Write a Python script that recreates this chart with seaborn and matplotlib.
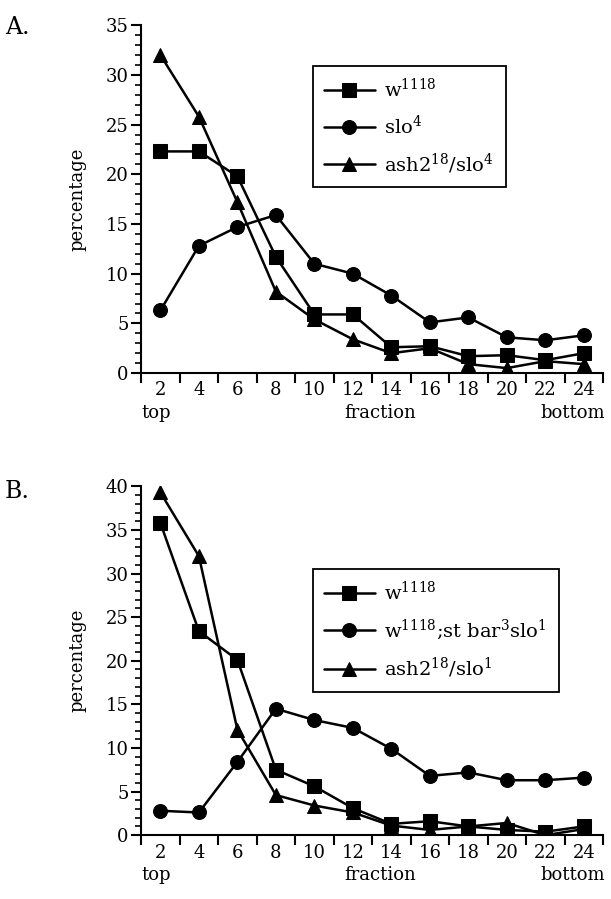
import numpy as np
import pandas as pd
import matplotlib
matplotlib.use("Agg")
import matplotlib.pyplot as plt
from matplotlib.ticker import MultipleLocator, FixedLocator, NullFormatter
import seaborn as sns

fractions = [2, 4, 6, 8, 10, 12, 14, 16, 18, 20, 22, 24]

# Panel A
a_w1118 = [22.3, 22.3, 19.8, 11.7, 5.9, 5.9, 2.6, 2.7, 1.7, 1.8, 1.3, 2.0]
a_slo4 = [6.3, 12.8, 14.7, 15.9, 11.0, 10.0, 7.8, 5.1, 5.6, 3.6, 3.3, 3.8]
a_ash2_slo4 = [32.0, 25.8, 17.2, 8.2, 5.4, 3.4, 2.0, 2.5, 0.9, 0.5, 1.2, 0.9]
a_labels = [r"w$^{\mathrm{1118}}$", r"slo$^{\mathrm{4}}$", r"ash2$^{\mathrm{18}}$/slo$^{\mathrm{4}}$"]

# Panel B
b_w1118 = [35.8, 23.4, 20.1, 7.5, 5.6, 3.1, 1.3, 1.6, 1.0, 0.6, 0.4, 1.0]
b_stbar_slo1 = [2.8, 2.6, 8.4, 14.5, 13.2, 12.3, 9.9, 6.8, 7.2, 6.3, 6.3, 6.6]
b_ash2_slo1 = [39.3, 32.0, 12.1, 4.6, 3.4, 2.6, 1.1, 0.6, 1.0, 1.4, 0.0, 0.7]
b_labels = [r"w$^{\mathrm{1118}}$", r"w$^{\mathrm{1118}}$;st bar$^{\mathrm{3}}$slo$^{\mathrm{1}}$",
            r"ash2$^{\mathrm{18}}$/slo$^{\mathrm{1}}$"]

sns.set_theme(style="ticks")
plt.rcParams["font.family"] = ["DejaVu Serif"]
plt.rcParams["mathtext.fontset"] = "dejavuserif"
plt.rcParams["text.color"] = "black"
plt.rcParams["axes.labelcolor"] = "black"
plt.rcParams["xtick.color"] = "black"
plt.rcParams["ytick.color"] = "black"
plt.rcParams["axes.edgecolor"] = "black"

FS = 13


def make_df(series, labels):
    rows = []
    for s, lab in zip(series, labels):
        for f, v in zip(fractions, s):
            rows.append({"fraction": f, "pct": v, "genotype": lab})
    return pd.DataFrame(rows)


def draw(ax, series, labels, ymax, legend_bbox):
    df = make_df(series, labels)
    markers = dict(zip(labels, ["s", "o", "^"]))
    sns.lineplot(data=df, x="fraction", y="pct", style="genotype", markers=markers,
                 dashes=False, color="black", linewidth=1.8, markersize=10,
                 markeredgecolor="black", ax=ax, legend="full")
    handles, labs = ax.get_legend_handles_labels()
    hmap = dict(zip(labs, handles))
    hs = [hmap[l] for l in labels]
    ax.legend(hs, labels, loc="upper left", bbox_to_anchor=legend_bbox, frameon=True,
              fancybox=False, edgecolor="black", framealpha=1,
              handlelength=2.6, borderpad=0.6, labelspacing=0.7, handletextpad=0.5,
              prop={"size": FS + 1})
    leg = ax.get_legend()
    leg.get_frame().set_linewidth(1.3)
    for lh in leg.legend_handles:
        lh.set_color("black")
        lh.set_markersize(10)
        lh.set_linewidth(1.8)
    ax.set_xlim(1, 25)
    ax.set_ylim(0, ymax)
    ax.xaxis.set_major_locator(FixedLocator(np.arange(1, 26, 2)))
    ax.xaxis.set_major_formatter(NullFormatter())
    ax.xaxis.set_minor_locator(FixedLocator(fractions))
    ax.set_xticklabels([str(f) for f in fractions], minor=True)
    ax.tick_params(axis="x", which="major", direction="out", length=7, width=1.5)
    ax.tick_params(axis="x", which="minor", length=0, pad=6, labelsize=FS)
    ax.yaxis.set_major_locator(MultipleLocator(5))
    ax.yaxis.set_minor_locator(MultipleLocator(1))
    ax.tick_params(axis="y", which="major", direction="out", length=7, width=1.5, labelsize=FS, pad=2)
    ax.tick_params(axis="y", which="minor", direction="out", length=4, width=1.2)
    for sp in ["top", "right"]:
        ax.spines[sp].set_visible(False)
    for sp in ["left", "bottom"]:
        ax.spines[sp].set_linewidth(1.5)
    ax.set_xlabel("")
    ax.set_ylabel("percentage", fontsize=FS, labelpad=14)
    ax.text(0.0, -0.088, "top", transform=ax.transAxes, ha="left", va="top", fontsize=FS)
    ax.text(0.44, -0.088, "fraction", transform=ax.transAxes, ha="left", va="top", fontsize=FS)
    ax.text(1.005, -0.088, "bottom", transform=ax.transAxes, ha="right", va="top", fontsize=FS)


fig = plt.figure(figsize=(6.11, 8.99), dpi=100)
axA = fig.add_axes([0.231, 0.585, 0.756, 0.387])
axB = fig.add_axes([0.231, 0.071, 0.756, 0.388])

draw(axA, [a_w1118, a_slo4, a_ash2_slo4], a_labels, 35, (0.35, 0.91))
draw(axB, [b_w1118, b_stbar_slo1, b_ash2_slo1], b_labels, 40, (0.35, 0.79))

fig.text(0.008, 0.982, "A.", fontsize=FS + 4, ha="left", va="top")
fig.text(0.008, 0.466, "B.", fontsize=FS + 4, ha="left", va="top")

fig.savefig("out.png", dpi=100)
